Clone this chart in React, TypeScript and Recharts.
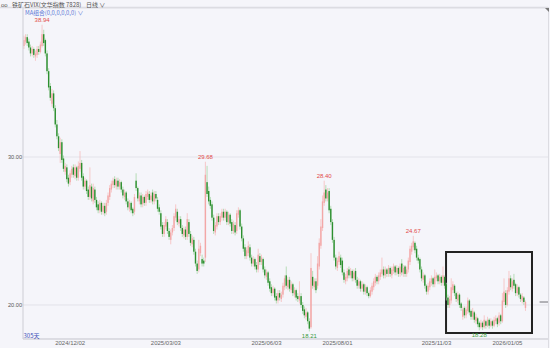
import { Bar, CartesianGrid, ComposedChart, ReferenceArea, ReferenceLine, XAxis, YAxis } from 'recharts';

// daily candles (305 days)
const opens = [
  37.5, 37.8, 38.1, 37.8, 37.4, 37.0, 37.3, 36.8, 36.9, 37.3,
  37.1, 37.5, 38.3, 37.9, 37.0, 35.8, 34.8, 33.6, 34.3, 33.3,
  32.2, 31.4, 30.2, 31.0, 29.9, 29.0, 29.3, 28.6, 28.3, 28.8,
  29.3, 28.7, 29.3, 28.6, 29.2, 29.6, 28.7, 28.0, 28.4, 27.8,
  27.3, 28.0, 27.0, 27.8, 27.1, 26.8, 26.4, 26.9, 26.3, 26.7,
  26.3, 26.9, 27.3, 27.8, 28.1, 28.5, 28.0, 28.4, 28.0, 28.3,
  27.8, 27.3, 27.6, 27.0, 26.5, 26.9, 26.5, 26.3, 28.4, 27.9,
  27.0, 27.4, 26.8, 27.3, 26.9, 27.3, 27.5, 27.1, 27.6, 27.0,
  27.5, 27.1, 26.6, 26.2, 25.4, 24.8, 25.3, 25.6, 25.0, 24.4,
  24.9, 25.2, 25.9, 26.3, 25.5, 25.8, 25.2, 24.7, 25.1, 24.6,
  25.6, 24.8, 24.1, 24.4, 23.6, 22.8, 22.4, 23.5, 23.1, 23.0,
  23.2, 28.3, 27.7, 27.1, 26.8, 25.9, 24.9, 25.3, 26.0, 25.6,
  25.9, 26.3, 25.9, 26.3, 25.6, 26.1, 25.6, 25.0, 25.4, 25.0,
  26.1, 26.4, 25.3, 24.5, 23.9, 23.3, 23.5, 23.9, 23.2, 22.8,
  23.1, 22.7, 22.4, 23.3, 22.9, 23.1, 22.4, 21.9, 22.2, 21.6,
  21.2, 20.8, 21.1, 20.6, 20.3, 20.8, 20.4, 20.7, 21.2, 22.0,
  21.2, 21.7, 21.0, 21.4, 20.7, 21.0, 20.6, 20.3, 20.6, 20.0,
  19.7, 19.2, 19.5, 18.9, 18.5, 21.9, 21.2, 21.6, 21.3, 22.6,
  24.0, 25.2, 26.9, 27.8, 27.2, 27.7, 26.5, 25.6, 24.4, 23.2,
  22.5, 22.9, 23.2, 23.0, 22.2, 21.6, 21.8, 22.4, 22.0, 22.3,
  21.8, 22.3, 21.7, 21.3, 21.6, 21.1, 21.4, 20.9, 21.2, 20.8,
  20.6, 20.9, 21.2, 21.5, 21.9, 21.6, 21.9, 22.1, 22.4, 22.0,
  22.4, 22.1, 22.5, 22.0, 22.3, 22.6, 22.2, 22.5, 22.1, 22.8,
  22.1, 22.6, 22.1, 22.4, 22.9, 23.6, 23.9, 24.2, 23.8, 23.2,
  23.1, 22.4, 21.7, 22.0, 21.3, 20.9, 21.2, 21.5, 21.8, 21.4,
  21.8, 22.0, 21.6, 21.9, 21.5, 21.9, 21.4, 20.5, 20.0, 20.3,
  21.0, 21.3, 20.8, 20.3, 20.7, 20.1, 19.2, 19.8, 19.3, 19.6,
  20.3, 19.6, 19.2, 19.5, 18.9, 19.1, 18.8, 18.5, 18.8, 18.5,
  18.9, 18.6, 19.0, 18.6, 18.9, 18.6, 18.9, 19.1, 18.8, 19.3,
  18.9, 20.2, 20.8, 20.0, 20.9, 21.8, 21.1, 21.7, 21.4, 20.8,
  21.2, 20.7, 20.3, 20.5, 19.8,
];

const highs = [
  38.2, 38.3, 38.3, 38.0, 37.6, 37.5, 37.4, 37.2, 37.5, 37.5,
  37.8, 38.94, 38.6, 38.0, 37.2, 36.0, 35.0, 34.6, 34.5, 33.5,
  32.5, 31.6, 31.3, 31.2, 30.1, 29.6, 29.5, 28.8, 29.1, 29.4,
  29.5, 29.5, 29.4, 29.7, 30.4, 29.8, 28.9, 28.6, 28.5, 28.0,
  29.3, 28.2, 28.2, 28.0, 27.3, 27.0, 27.1, 27.0, 26.9, 26.9,
  27.1, 27.6, 28.1, 28.4, 28.6, 28.7, 28.6, 28.6, 28.5, 28.4,
  28.0, 27.8, 27.7, 27.2, 27.1, 27.0, 26.6, 27.5, 28.9, 28.0,
  27.6, 27.6, 27.5, 27.4, 27.7, 27.8, 27.7, 27.6, 27.8, 27.7,
  27.7, 27.3, 26.8, 26.4, 25.6, 25.6, 26.0, 25.8, 25.2, 25.1,
  25.4, 26.2, 26.8, 26.5, 26.0, 26.0, 25.4, 25.3, 25.3, 26.2,
  25.8, 25.0, 24.7, 24.6, 23.8, 23.0, 24.4, 24.2, 23.4, 23.2,
  29.68, 29.4, 28.0, 27.3, 27.0, 26.1, 25.6, 26.2, 26.2, 26.2,
  26.5, 26.5, 26.5, 26.4, 26.3, 26.2, 25.8, 25.7, 25.6, 26.4,
  26.6, 26.5, 25.5, 24.7, 24.1, 23.9, 24.3, 24.1, 23.4, 23.3,
  23.2, 22.9, 23.8, 23.5, 23.4, 23.2, 22.6, 22.4, 22.3, 21.8,
  21.4, 21.3, 21.2, 20.8, 21.0, 21.0, 20.9, 21.5, 22.0, 22.6,
  21.9, 21.9, 21.6, 21.5, 21.2, 21.1, 20.8, 21.6, 20.8, 20.2,
  19.9, 19.8, 19.6, 19.1, 23.5, 22.3, 21.8, 21.8, 23.3, 24.5,
  25.8, 27.4, 28.4, 28.1, 27.9, 27.9, 26.7, 25.8, 24.6, 23.4,
  23.2, 23.6, 23.4, 23.2, 22.4, 22.1, 22.5, 22.6, 22.5, 22.4,
  22.4, 22.5, 21.9, 21.8, 21.7, 21.6, 21.5, 21.4, 21.3, 20.9,
  21.2, 21.5, 21.8, 22.1, 22.0, 22.2, 22.4, 23.2, 22.6, 22.6,
  22.5, 22.7, 22.6, 22.6, 22.8, 22.7, 22.7, 22.6, 22.8, 23.1,
  22.7, 22.7, 22.6, 23.2, 24.0, 24.2, 24.67, 24.3, 24.0, 23.4,
  23.2, 22.6, 22.2, 22.1, 21.4, 21.5, 21.8, 22.0, 21.9, 22.4,
  22.2, 22.1, 22.1, 22.0, 22.6, 22.0, 21.5, 20.7, 20.6, 21.8,
  21.6, 21.4, 20.9, 20.9, 20.8, 20.2, 19.9, 19.9, 19.9, 20.5,
  20.4, 19.7, 19.8, 19.6, 19.4, 19.2, 18.9, 19.0, 18.9, 19.3,
  19.0, 19.2, 19.1, 19.1, 19.0, 19.2, 19.3, 19.2, 19.5, 19.4,
  20.8, 21.8, 21.0, 21.2, 22.3, 22.0, 21.8, 22.1, 21.5, 21.4,
  21.3, 20.8, 20.8, 20.6, 20.3,
];

const lows = [
  37.3, 37.6, 37.5, 37.2, 36.8, 36.8, 36.7, 36.5, 36.7, 36.9,
  37.0, 37.4, 37.5, 36.8, 35.6, 34.5, 33.8, 33.4, 33.1, 32.0,
  31.2, 30.4, 29.6, 29.6, 29.0, 28.8, 28.3, 28.0, 28.1, 28.6,
  28.6, 28.5, 28.4, 28.4, 29.0, 28.4, 27.8, 27.8, 27.5, 27.1,
  27.1, 27.0, 26.8, 26.9, 26.4, 26.2, 26.2, 26.1, 26.1, 26.0,
  26.1, 26.7, 27.1, 27.6, 27.9, 27.9, 27.8, 27.8, 27.8, 27.6,
  27.2, 27.1, 26.8, 26.4, 26.3, 26.2, 26.0, 26.1, 27.7, 27.0,
  26.8, 26.6, 26.6, 26.7, 26.7, 27.1, 26.9, 26.9, 26.8, 26.8,
  27.0, 26.3, 26.1, 25.1, 24.6, 24.6, 25.1, 24.8, 24.4, 24.1,
  24.7, 25.0, 25.7, 25.4, 25.3, 25.0, 24.6, 24.5, 24.4, 24.4,
  24.6, 24.0, 23.9, 23.4, 22.6, 22.1, 22.2, 23.3, 22.6, 22.6,
  22.9, 27.3, 26.8, 26.5, 25.7, 24.8, 24.7, 25.1, 25.4, 25.4,
  25.7, 25.7, 25.7, 25.4, 25.4, 25.3, 24.8, 24.8, 24.7, 24.8,
  25.9, 25.1, 24.3, 23.6, 23.1, 23.1, 23.3, 23.0, 22.6, 22.6,
  22.4, 22.2, 22.2, 22.7, 22.7, 22.2, 21.8, 21.7, 21.3, 20.9,
  20.6, 20.6, 20.3, 20.1, 20.1, 20.3, 20.2, 20.5, 21.0, 21.1,
  21.0, 20.9, 20.8, 20.6, 20.5, 20.3, 20.2, 20.1, 19.8, 19.4,
  19.1, 19.0, 18.7, 18.21, 18.4, 21.1, 21.0, 20.8, 21.1, 22.4,
  23.8, 25.0, 26.7, 27.0, 27.0, 26.2, 25.4, 24.2, 23.0, 22.4,
  22.3, 22.7, 22.5, 22.0, 21.5, 21.4, 21.6, 21.8, 21.8, 21.6,
  21.6, 21.5, 21.1, 21.1, 20.9, 20.9, 20.7, 20.7, 20.6, 20.45,
  20.5, 20.7, 21.0, 21.3, 21.4, 21.4, 21.7, 21.9, 21.8, 21.8,
  21.9, 21.9, 21.9, 21.8, 22.1, 22.0, 22.0, 21.9, 21.9, 22.0,
  21.9, 21.9, 21.9, 22.2, 22.7, 23.4, 23.7, 23.5, 23.0, 22.8,
  22.2, 21.6, 21.5, 21.1, 20.7, 20.7, 21.0, 21.3, 21.2, 21.2,
  21.6, 21.4, 21.4, 21.3, 21.3, 21.1, 20.3, 19.8, 19.8, 20.1,
  20.8, 20.6, 20.2, 20.1, 19.8, 19.6, 19.0, 19.1, 19.1, 19.4,
  19.3, 19.0, 19.0, 18.8, 18.7, 18.5, 18.28, 18.4, 18.3, 18.4,
  18.4, 18.5, 18.4, 18.5, 18.4, 18.5, 18.7, 18.5, 18.6, 18.7,
  18.8, 20.0, 19.8, 19.9, 20.7, 21.0, 20.9, 21.1, 20.6, 20.6,
  20.5, 20.2, 20.1, 20.0, 19.6,
];

const closes = [
  37.9, 38.1, 37.7, 37.4, 37.0, 37.3, 36.9, 37.0, 37.3, 37.1,
  37.6, 38.3, 37.7, 37.0, 35.8, 34.7, 34.0, 34.3, 33.3, 32.2,
  31.4, 30.6, 31.0, 29.8, 29.2, 29.4, 28.5, 28.2, 28.9, 29.2,
  28.8, 29.3, 28.6, 29.4, 29.6, 28.6, 28.0, 28.4, 27.7, 27.3,
  28.1, 27.2, 27.9, 27.1, 26.6, 26.4, 26.9, 26.3, 26.7, 26.2,
  26.9, 27.4, 27.9, 28.2, 28.4, 28.1, 28.4, 28.0, 28.3, 27.8,
  27.4, 27.6, 27.0, 26.6, 26.9, 26.4, 26.2, 27.3, 27.9, 27.2,
  27.4, 26.8, 27.3, 26.9, 27.5, 27.6, 27.1, 27.4, 27.0, 27.5,
  27.2, 26.5, 26.3, 25.3, 24.8, 25.4, 25.8, 25.0, 24.6, 24.9,
  25.2, 26.0, 26.5, 25.6, 25.8, 25.2, 24.8, 25.1, 24.6, 25.8,
  24.8, 24.2, 24.5, 23.6, 22.8, 22.3, 23.8, 24.0, 22.8, 22.8,
  28.8, 27.5, 27.0, 26.7, 25.9, 25.0, 25.4, 26.0, 25.6, 26.0,
  26.3, 25.9, 26.3, 25.6, 26.1, 25.5, 25.0, 25.5, 24.9, 26.2,
  26.4, 25.3, 24.5, 23.8, 23.3, 23.7, 24.0, 23.2, 22.8, 23.1,
  22.6, 22.4, 23.4, 22.9, 23.2, 22.4, 22.0, 22.2, 21.5, 21.1,
  20.8, 21.1, 20.5, 20.3, 20.8, 20.5, 20.7, 21.3, 21.8, 21.3,
  21.7, 21.1, 21.4, 20.8, 21.0, 20.5, 20.4, 20.6, 20.0, 19.6,
  19.3, 19.5, 18.9, 18.4, 22.5, 21.3, 21.6, 21.0, 22.8, 24.2,
  25.3, 27.0, 27.6, 27.2, 27.6, 26.4, 25.6, 24.4, 23.2, 22.6,
  23.0, 23.3, 22.7, 22.2, 21.7, 21.9, 22.3, 22.0, 22.3, 21.8,
  22.2, 21.7, 21.3, 21.6, 21.1, 21.4, 20.9, 21.2, 20.8, 20.6,
  21.0, 21.3, 21.6, 21.9, 21.6, 22.0, 22.2, 22.4, 22.0, 22.4,
  22.1, 22.5, 22.1, 22.4, 22.6, 22.2, 22.5, 22.1, 22.6, 22.2,
  22.5, 22.1, 22.4, 23.0, 23.8, 24.0, 24.3, 23.7, 23.2, 23.0,
  22.4, 21.8, 22.0, 21.3, 20.9, 21.3, 21.6, 21.8, 21.4, 21.9,
  22.0, 21.6, 21.9, 21.5, 22.0, 21.3, 20.5, 20.0, 20.4, 21.2,
  21.4, 20.8, 20.4, 20.7, 20.0, 19.8, 19.7, 19.3, 19.7, 20.3,
  19.5, 19.2, 19.6, 19.0, 19.2, 18.7, 18.5, 18.8, 18.5, 19.0,
  18.6, 19.0, 18.6, 18.9, 18.6, 19.0, 19.1, 18.7, 19.3, 18.9,
  20.3, 20.9, 20.0, 21.0, 21.8, 21.2, 21.6, 21.3, 20.8, 21.2,
  20.7, 20.4, 20.6, 20.2, 20.2,
];

// x ticks sit on candle indexes
const tickIdx = [28, 86, 147, 190, 250, 293];
const tickLabels = ['2024/12/02', '2025/03/03', '2025/06/03', '2025/08/01', '2025/11/03', '2026/01/05'];

// highest / lowest marks printed on the chart
const markIdx = [11, 110, 182, 236, 173, 276];
const markText = ['38.94', '29.68', '28.40', '24.67', '18.21', '18.28'];
const markIsHigh = [true, true, true, true, false, false];

const lastPrice = 20.2;

const data = closes.map((c, i) => ({
  i,
  o: opens[i],
  h: highs[i],
  l: lows[i],
  c,
  range: [lows[i], highs[i]],
}));

const UP = '#f3a7a7';
const UP_WICK = '#f6bcbc';
const DOWN = '#2c8f2f';
const DOWN_WICK = '#a6d6a6';

const Candle = (props: any) => {
  const { x, y, width, height, payload } = props;
  if (payload == null || height == null) return null;
  const { o, h, l, c, i } = payload;
  const top = Math.min(y, y + height);
  const hh = Math.abs(height);
  const span = h - l || 1;
  const py = (v: number) => top + ((h - v) / span) * hh;
  const cx = x + width / 2;
  const up = c >= o;
  const b1 = py(Math.max(o, c));
  const b2 = py(Math.min(o, c));
  const bw = 1.4;
  const k = markIdx.indexOf(i);
  return (
    <g>
      <line x1={cx} x2={cx} y1={top} y2={top + hh} stroke={up ? UP_WICK : DOWN_WICK} strokeWidth={0.8} />
      <rect x={cx - bw / 2} y={b1} width={bw} height={Math.max(0.7, b2 - b1)} fill={up ? UP : DOWN} />
      {k >= 0 && (
        <text
          x={cx}
          y={markIsHigh[k] ? top - 3 : top + hh + 7}
          textAnchor="middle"
          fontSize={6}
          fontFamily="Liberation Sans, Arial, sans-serif"
          fill={markIsHigh[k] ? '#e24b4b' : '#3a9a3a'}
        >
          {markText[k]}
        </text>
      )}
    </g>
  );
};

const App = () => {
  return (
    <div style={{ position: 'absolute', left: 0, top: 0, width: 550, height: 348, background: '#f5f5fa', overflow: 'hidden' }}>
      <ComposedChart width={550} height={348} data={data} margin={{ top: 8, right: 2, bottom: 0, left: 0 }}>
        <CartesianGrid vertical={false} stroke="#e3e3ea" />
        <XAxis
          dataKey="i"
          type="number"
          domain={[-0.6, 317.6]}
          allowDataOverflow
          ticks={tickIdx}
          interval={0}
          tickFormatter={(v) => tickLabels[tickIdx.indexOf(v)] ?? ''}
          height={9}
          tickLine={false}
          tickSize={0}
          tickMargin={2}
          axisLine={{ stroke: '#cdcdd4' }}
          tick={{ fontSize: 6, fill: '#666', fontFamily: 'Liberation Sans, Arial, sans-serif' }}
        />
        <YAxis
          type="number"
          domain={[17.7, 40.07]}
          allowDataOverflow
          ticks={[20, 30]}
          tickFormatter={(v) => v.toFixed(2)}
          width={23}
          tickLine={false}
          tickSize={0}
          tickMargin={1}
          axisLine={{ stroke: '#cdcdd4' }}
          tick={{ fontSize: 5.6, fill: '#555', fontFamily: 'Liberation Sans, Arial, sans-serif' }}
        />
        <Bar dataKey="range" barSize={2} shape={<Candle />} isAnimationActive={false} />
        <ReferenceArea
          x1={255.8}
          x2={307.9}
          y1={18.11}
          y2={23.58}
          stroke="#222"
          strokeWidth={2}
          fill="none"
          fillOpacity={0}
          ifOverflow="visible"
        />
        <ReferenceLine
          segment={[{ x: 312.5, y: lastPrice }, { x: 317.6, y: lastPrice }]}
          stroke="#9a9aa0"
          strokeWidth={1.5}
          ifOverflow="visible"
        />
      </ComposedChart>
      <svg width={550} height={348} style={{ position: 'absolute', left: 0, top: 0, pointerEvents: 'none' }}>
        <line x1={0} x2={548} y1={7.5} y2={7.5} stroke="#dcdce2" strokeWidth={1.5} />
        <line x1={548.5} x2={548.5} y1={7} y2={348} stroke="#dcdce2" strokeWidth={1} />
        <polygon points="545,8 549,8 549,12" fill="#777" />
        <text x={1} y={6.5} fontSize={6} fill="#555" fontFamily="Liberation Sans, Arial, sans-serif">
          oo
        </text>
        <text x={12} y={6.5} fontSize={6} fill="#555" fontFamily="Noto Sans CJK SC, sans-serif">
          铁矿石VIX(文华指数 7828)
        </text>
        <text x={86} y={6.5} fontSize={6} fill="#555" fontFamily="Noto Sans CJK SC, sans-serif">
          日线 ∨
        </text>
        <text x={25} y={14.8} fontSize={5.8} fill="#5b78d6" fontFamily="Noto Sans CJK SC, sans-serif">
          MA组合(0,0,0,0,0,0) ∨
        </text>
        <text x={23.5} y={337.5} fontSize={6} fill="#3d4fb8" fontFamily="Noto Sans CJK SC, sans-serif">
          305天
        </text>
      </svg>
    </div>
  );
};

export default App;
